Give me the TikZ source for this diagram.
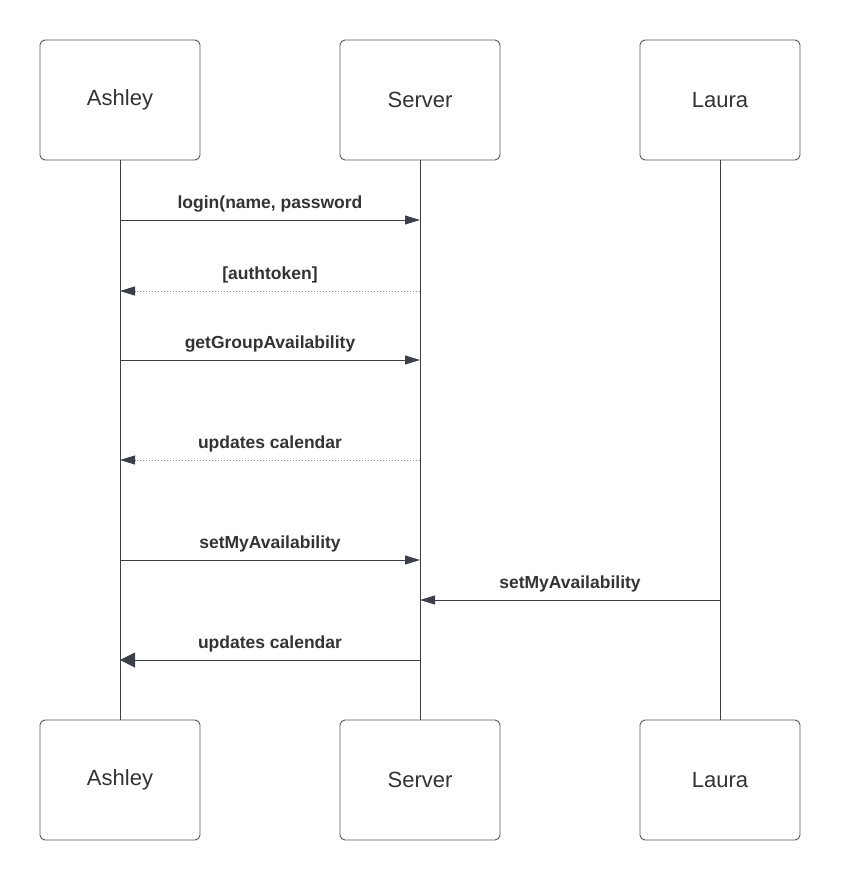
\documentclass[tikz,border=0pt]{standalone}
\usepackage{fontspec}
\setmainfont{Liberation Sans}
\usetikzlibrary{arrows.meta}
\definecolor{ink}{HTML}{333333}
\definecolor{line}{HTML}{3A3F4A}
\definecolor{boxline}{HTML}{555555}
\begin{document}
\begin{tikzpicture}[x=1pt,y=-1pt,
  actor/.style={draw=boxline,line width=0.9pt,rounded corners=5pt,minimum width=160pt,minimum height=120pt,fill=white,font=\fontsize{22}{26}\selectfont,text=ink,inner sep=0pt},
  life/.style={draw=line,line width=0.9pt},
  msg/.style={draw=line,line width=1pt,-{Triangle[length=15pt,width=9pt]}},
  ret/.style={draw=line!60,line width=1pt,dotted,arrows={-{Triangle[length=15pt,width=9pt,color=line]}}},
  big/.style={draw=line,line width=1pt,-{Triangle[length=15pt,width=15pt]}},
  lbl/.style={font=\bfseries\fontsize{17.5}{20}\selectfont,text=ink,inner sep=2pt}]
\useasboundingbox (0,0) rectangle (840,880);
\node[actor] (a1) at (120,100) {Ashley};
\node[actor] (s1) at (420,100) {Server};
\node[actor] (l1) at (720,100) {Laura};
\node[actor] (a2) at (120,780) {Ashley};
\node[actor] (s2) at (420,780) {Server};
\node[actor] (l2) at (720,780) {Laura};
\draw[life] (a1.south) -- (a2.north);
\draw[life] (s1.south) -- (s2.north);
\draw[life] (l1.south) -- (l2.north);
% messages
\coordinate (m1a) at (120,220); \coordinate (m1s) at (420,220);
\coordinate (m2a) at (120,291); \coordinate (m2s) at (420,291);
\coordinate (m3a) at (120,360); \coordinate (m3s) at (420,360);
\coordinate (m4a) at (120,460); \coordinate (m4s) at (420,460);
\coordinate (m5a) at (120,560); \coordinate (m5s) at (420,560);
\coordinate (m6s) at (420,600); \coordinate (m6l) at (720,600);
\coordinate (m7a) at (120,660); \coordinate (m7s) at (420,660);
\draw[msg] (m1a) -- node[lbl,above=5pt] (t1) {login(name, password} (m1s);
\draw[ret] (m2s) -- node[lbl,above=5pt] (t2) {[authtoken]} (m2a);
\draw[msg] (m3a) -- node[lbl,above=5pt] (t3) {getGroupAvailability} (m3s);
\draw[ret] (m4s) -- node[lbl,above=5pt] (t4) {updates calendar} (m4a);
\draw[msg] (m5a) -- node[lbl,above=5pt] (t5) {setMyAvailability} (m5s);
\draw[msg] (m6l) -- node[lbl,above=5pt] (t6) {setMyAvailability} (m6s);
\draw[big] (m7s) -- node[lbl,above=5pt] (t7) {updates calendar} (m7a);
\end{tikzpicture}
\end{document}
